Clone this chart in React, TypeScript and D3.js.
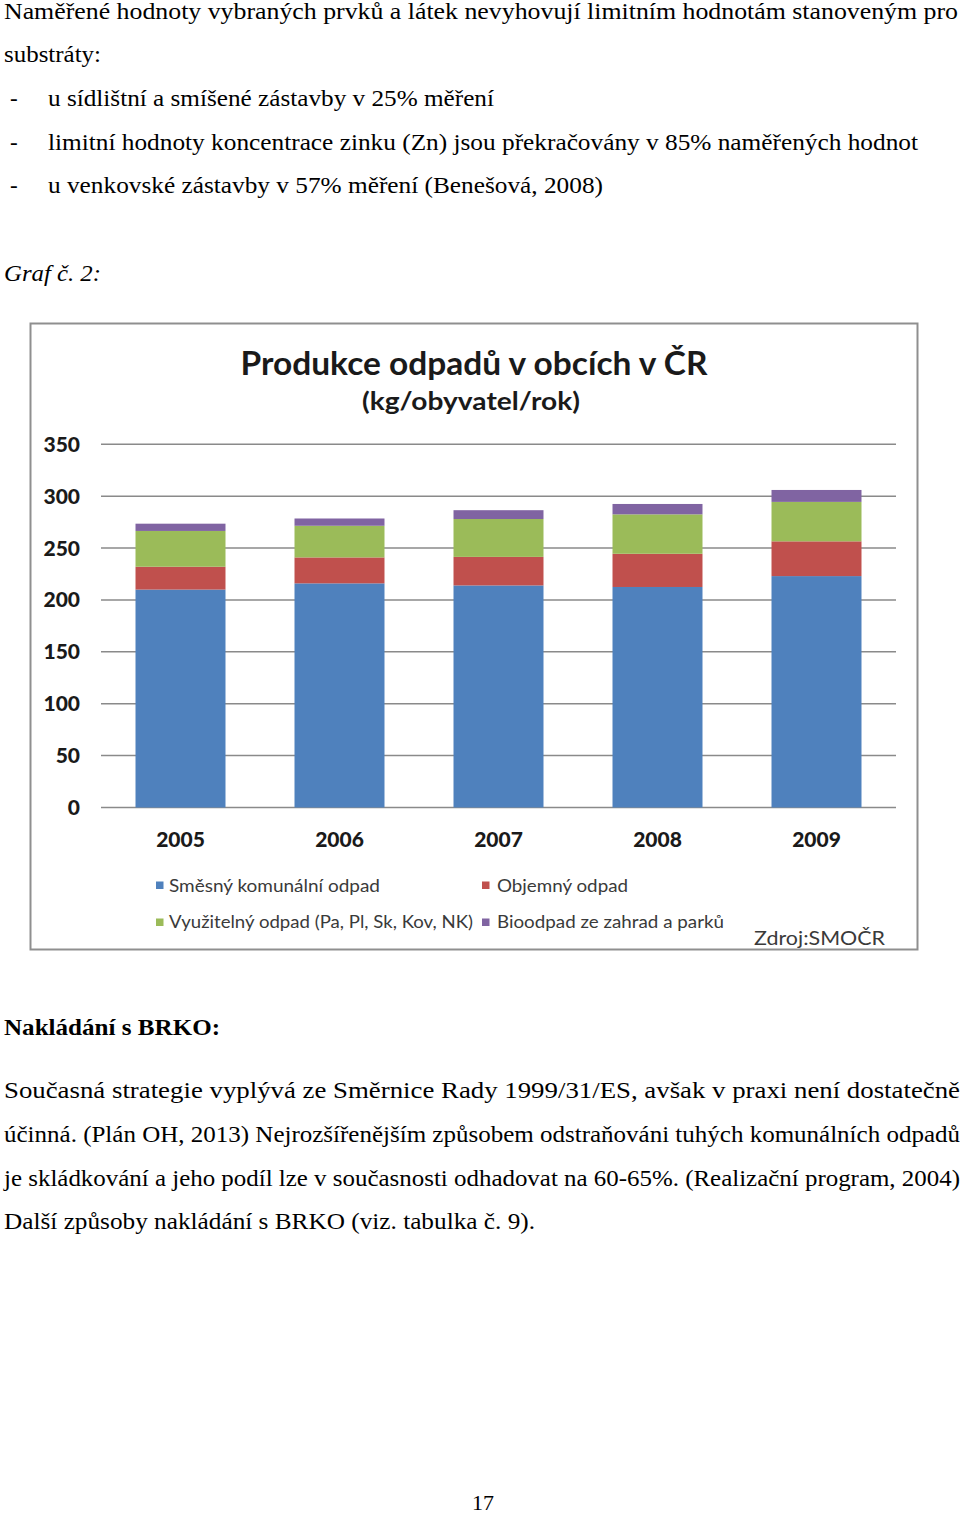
import React from "react";
import * as d3 from "d3";

const years = ["2005", "2006", "2007", "2008", "2009"];
const smesny = [210, 216, 214, 212.5, 223];
const objemny = [22, 25, 27.5, 32, 33.5];
const vyuzitelny = [34.5, 30.5, 36.5, 38, 38];
const bioodpad = [7, 7, 8.5, 10, 11.5];
const seriesNames = [
  "Směsný komunální odpad",
  "Objemný odpad",
  "Využitelný odpad (Pa, Pl, Sk, Kov, NK)",
  "Bioodpad ze zahrad a parků",
];
const seriesKeys = ["smesny", "objemny", "vyuzitelny", "bioodpad"];
const colors = ["#4F81BD", "#C0504D", "#9BBB59", "#8064A2"];
const yTicks = [0, 50, 100, 150, 200, 250, 300, 350];

const topLines = [
  { text: "Naměřené hodnoty vybraných prvků a látek nevyhovují limitním hodnotám stanoveným pro", x: 4, y: 19, w: 954 },
  { text: "substráty:", x: 4, y: 62, w: 97 },
];
const bullets = [
  { text: "u sídlištní a smíšené zástavby v 25% měření", y: 106, w: 446 },
  { text: "limitní hodnoty koncentrace zinku (Zn) jsou překračovány v 85% naměřených hodnot", y: 150, w: 870 },
  { text: "u venkovské zástavby v 57% měření (Benešová, 2008)", y: 193, w: 555 },
];
const bottomLines = [
  { text: "Současná strategie vyplývá ze Směrnice Rady 1999/31/ES, avšak v praxi není dostatečně", y: 1098, w: 956 },
  { text: "účinná. (Plán OH, 2013) Nejrozšířenějším způsobem odstraňováni tuhých komunálních odpadů", y: 1142, w: 956 },
  { text: "je skládkování a jeho podíl lze v současnosti odhadovat na 60-65%. (Realizační program, 2004)", y: 1186, w: 956 },
  { text: "Další způsoby nakládání s BRKO (viz. tabulka č. 9).", y: 1229, w: 531 },
];

const serif = "'Liberation Serif', 'Times New Roman', serif";
const sans = "Lato, 'Open Sans', sans-serif";

export default function App() {
  const data = years.map((y, i) => ({
    year: y,
    smesny: smesny[i],
    objemny: objemny[i],
    vyuzitelny: vyuzitelny[i],
    bioodpad: bioodpad[i],
  }));
  const stack = d3.stack<any>().keys(seriesKeys);
  const stacked = stack(data);

  const x = d3.scaleBand().domain(years).range([101, 896]).paddingInner(0.434).paddingOuter(0.217);
  const y = d3.scaleLinear().domain([0, 350]).range([807.5, 444.3]);

  const legendPos = [
    { sx: 156, sy: 881.5, tx: 169, ty: 891.5, w: 211 },
    { sx: 482, sy: 881.5, tx: 497, ty: 891.5, w: 131 },
    { sx: 156, sy: 918.5, tx: 169, ty: 928, w: 304 },
    { sx: 482, sy: 918.5, tx: 497, ty: 928, w: 227 },
  ];

  return (
    <svg
      width={960}
      height={1515}
      style={{ position: "absolute", left: 0, top: 0, background: "#fff" }}
    >
      <rect x={0} y={0} width={960} height={1515} fill="#fff" />
      {topLines.map((l, i) => (
        <text key={"t" + i} x={l.x} y={l.y} fontFamily={serif} fontSize={23} fill="#000"
          textLength={l.w} lengthAdjust="spacingAndGlyphs">{l.text}</text>
      ))}
      {bullets.map((l, i) => (
        <g key={"b" + i}>
          <text x={10} y={l.y} fontFamily={serif} fontSize={23} fill="#000">-</text>
          <text x={48} y={l.y} fontFamily={serif} fontSize={23} fill="#000"
            textLength={l.w} lengthAdjust="spacingAndGlyphs">{l.text}</text>
        </g>
      ))}
      <text x={4} y={281} fontFamily={serif} fontSize={23} fontStyle="italic" fill="#000"
        textLength={97} lengthAdjust="spacingAndGlyphs">Graf č. 2:</text>

      <rect x={30.5} y={323.5} width={887} height={626} fill="#fff" stroke="#8f8f8f" strokeWidth={2} />
      <text x={474} y={375} textAnchor="middle" fontFamily={sans} fontWeight="bold" fontSize={33} fill="#1a1a1a"
        textLength={467} lengthAdjust="spacingAndGlyphs">Produkce odpadů v obcích v ČR</text>
      <text x={471} y={410} textAnchor="middle" fontFamily={sans} fontWeight="bold" fontSize={24} fill="#1a1a1a"
        textLength={218} lengthAdjust="spacingAndGlyphs">(kg/obyvatel/rok)</text>

      {yTicks.map((t) => (
        <g key={"g" + t}>
          <line x1={101} x2={896} y1={y(t)} y2={y(t)} stroke="#8a8a8a" strokeWidth={1.5} />
          <text x={80} y={y(t) + 7.5} textAnchor="end" fontFamily={sans} fontWeight="900" fontSize={21} fill="#1a1a1a">{t}</text>
        </g>
      ))}

      {stacked.map((s, si) => (
        <g key={"s" + si} fill={colors[si]}>
          {s.map((d: any, i: number) => (
            <rect key={i} x={x(years[i])} width={x.bandwidth()} y={y(d[1])} height={y(d[0]) - y(d[1])} />
          ))}
        </g>
      ))}

      {years.map((yr) => (
        <text key={"x" + yr} x={(x(yr) as number) + x.bandwidth() / 2} y={847} textAnchor="middle"
          fontFamily={sans} fontWeight="900" fontSize={21} fill="#1a1a1a">{yr}</text>
      ))}

      {seriesNames.map((n, i) => (
        <g key={"l" + i}>
          <rect x={legendPos[i].sx} y={legendPos[i].sy} width={7.5} height={7.5} fill={colors[i]} />
          <text x={legendPos[i].tx} y={legendPos[i].ty} fontFamily={sans} fontSize={18} fill="#3a3a3a"
            textLength={legendPos[i].w} lengthAdjust="spacingAndGlyphs">{n}</text>
        </g>
      ))}
      <text x={754} y={945} fontFamily={sans} fontSize={20} fill="#3a3a3a"
        textLength={131} lengthAdjust="spacingAndGlyphs">Zdroj:SMOČR</text>

      <text x={4} y={1035} fontFamily={serif} fontSize={23} fontWeight="bold" fill="#000"
        textLength={216} lengthAdjust="spacingAndGlyphs">Nakládání s BRKO:</text>
      {bottomLines.map((l, i) => (
        <text key={"p" + i} x={4} y={l.y} fontFamily={serif} fontSize={23} fill="#000"
          textLength={l.w} lengthAdjust="spacingAndGlyphs">{l.text}</text>
      ))}
      <text x={483} y={1510} textAnchor="middle" fontFamily={serif} fontSize={22} fill="#000">17</text>
    </svg>
  );
}
